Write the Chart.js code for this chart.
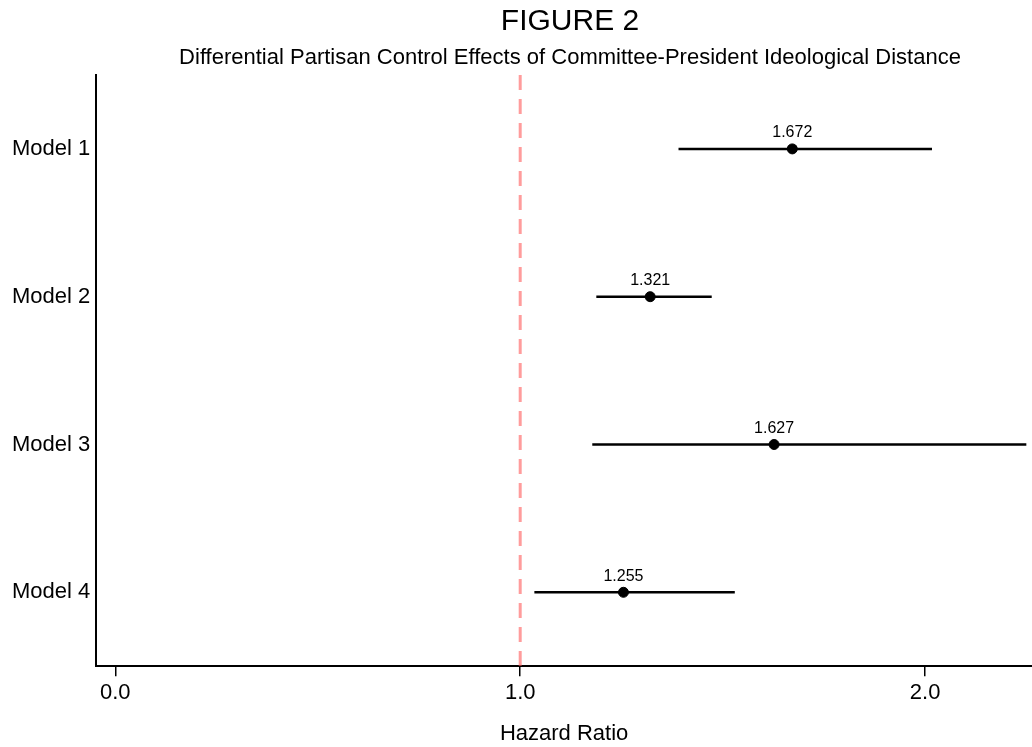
<!DOCTYPE html>
<html>
<head>
<meta charset="utf-8">
<script src="https://cdn.jsdelivr.net/npm/chart.js@4"></script>
<style>
  html, body { margin: 0; padding: 0; background: #fff; }
  #wrap { width: 1032px; height: 747px; }
</style>
</head>
<body>
<div id="wrap"><canvas id="forestCanvas"></canvas></div>
<script>
/* values */
var models = ['Model 1', 'Model 2', 'Model 3', 'Model 4'];
var hazardRatio = [1.672, 1.321, 1.627, 1.255];
var lowerCI = [1.391, 1.188, 1.178, 1.035];
var upperCI = [2.017, 1.473, 2.25, 1.530];
var xTicks = [0, 1, 2];
var refLine = 1.0;
var figTitle = 'FIGURE 2';
var figSubtitle = 'Differential Partisan Control Effects of Committee-President Ideological Distance';

var FONT = "'Liberation Sans', Arial, Helvetica, sans-serif";

/* one line per model for the interval */
var datasets = [];
for (var i = 0; i < models.length; i++) {
    datasets.push({
        type: 'line',
        label: models[i] + ' CI',
        data: [{x: lowerCI[i], y: i + 1}, {x: upperCI[i], y: i + 1}],
        borderColor: '#000',
        borderWidth: 2.5,
        pointRadius: 0,
        fill: false
    });
}

// point estimates
datasets.push({
    type: 'scatter',
    label: 'Hazard ratio',
    data: hazardRatio.map(function(v, i) { return {x: v, y: i + 1}; }),
    backgroundColor: '#000',
    borderColor: '#000',
    pointRadius: 5,
    pointHoverRadius: 5
});

// dashed reference line at 1.0
datasets.push({
    type: 'line',
    label: 'ref',
    data: [{x: refLine, y: 0.5}, {x: refLine, y: models.length + 0.5}],
    borderColor: 'rgba(255, 90, 90, 0.6)',
    borderWidth: 3,
    borderDash: [15, 9],
    pointRadius: 0,
    fill: false,
    order: 10
});

/* titles + the estimate above each point */
var textBits = {
    id: 'textBits',
    afterDraw: function(chart) {
        var ctx = chart.ctx;
        var xs = chart.scales.x, ys = chart.scales.y;
        ctx.save();
        ctx.fillStyle = '#000';
        ctx.textAlign = 'center';
        ctx.textBaseline = 'middle';
        ctx.font = '30px ' + FONT;
        ctx.fillText(figTitle, 570, 22);
        ctx.font = '22px ' + FONT;
        ctx.fillText(figSubtitle, 570, 58);
        ctx.font = '16px ' + FONT;
        for (var i = 0; i < hazardRatio.length; i++) {
            ctx.fillText(hazardRatio[i].toFixed(3), xs.getPixelForValue(hazardRatio[i]), ys.getPixelForValue(i + 1) - 16);
        }
        ctx.restore();
    }
};

var ctx = document.getElementById('forestCanvas').getContext('2d');
var chart = new Chart(ctx, {
    type: 'scatter',
    data: { datasets: datasets },
    options: {
        responsive: true,
        maintainAspectRatio: false,
        animation: false,
        layout: { autoPadding: false, padding: { left: 6, right: 0, top: 75, bottom: 0 } },
        plugins: {
            legend: { display: false },
            tooltip: { enabled: false }
        },
        scales: {
            x: {
                type: 'linear',
                min: -0.047,
                max: 2.264,
                afterBuildTicks: function(axis) {
                    axis.ticks = xTicks.map(function(v) { return {value: v}; });
                },
                ticks: {
                    color: '#000',
                    font: { family: FONT, size: 22 },
                    padding: 4,
                    maxRotation: 0,
                    callback: function(v) { return Number(v).toFixed(1); }
                },
                grid: { drawOnChartArea: false, drawTicks: true, tickLength: 10, color: '#000', lineWidth: 1.5 },
                border: { display: true, color: '#000', width: 2 },
                title: {
                    display: true,
                    text: 'Hazard Ratio',
                    color: '#000',
                    font: { family: FONT, size: 22 },
                    padding: { top: 10, bottom: 0 }
                }
            },
            y: {
                type: 'linear',
                min: 0.5,
                max: models.length + 0.5,
                reverse: true,
                afterBuildTicks: function(axis) {
                    axis.ticks = models.map(function(m, i) { return {value: i + 1}; });
                },
                ticks: {
                    color: '#000',
                    font: { family: FONT, size: 22 },
                    padding: 6,
                    callback: function(v) { return models[v - 1]; }
                },
                grid: { drawOnChartArea: false, drawTicks: false },
                border: { display: true, color: '#000', width: 2 }
            }
        }
    },
    plugins: [textBits]
});
</script>
</body>
</html>
